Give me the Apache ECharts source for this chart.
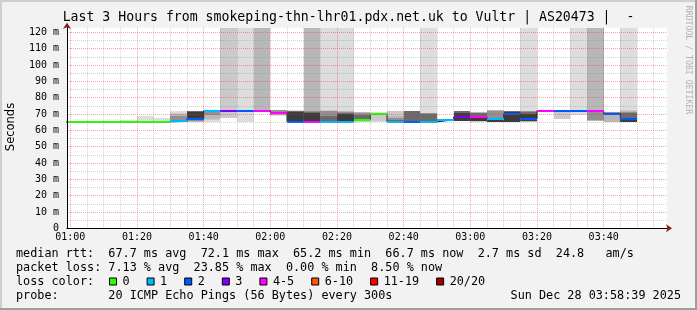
<!DOCTYPE html>
<html>
<head>
<meta charset="utf-8">
<script src="https://cdn.jsdelivr.net/npm/echarts@6.0.0/dist/echarts.min.js"></script>
<style>
html,body{margin:0;padding:0;background:#f2f2f2;overflow:hidden;}
#chart{width:697px;height:310px;}
</style>
</head>
<body>
<div id="chart"></div>
<script>
// ================= DATA =================
// 5-minute measurement slots (start time of each slot)
const slotStart = ['00:55','01:00','01:05','01:10','01:15','01:20','01:25','01:30','01:35','01:40',
  '01:45','01:50','01:55','02:00','02:05','02:10','02:15','02:20','02:25','02:30','02:35','02:40',
  '02:45','02:50','02:55','03:00','03:05','03:10','03:15','03:20','03:25','03:30','03:35','03:40','03:45'];

// median round trip time per slot (ms)
const medianRtt = [65.2,65.2,65.2,65.2,65.2,65.2,65.2,65.5,67.2,72.1,72.1,72.1,72.1,70.8,65.2,65.2,65.2,65.2,
  66.6,70.3,65.2,65.2,65.2,66.4,68.3,68.3,66.9,70.3,67.0,72.1,72.1,72.1,72.1,70.3,66.7];

// lost pings (of 20) per slot
const lossCount = [0,0,0,0,0,0,0,1,2,1,3,2,4,4,2,5,1,1,0,0,1,2,1,1,3,4,1,2,2,4,2,2,5,2,2];

// smoke: ping spread per slot, [low, high] ms, from outermost rank pair to innermost
const smokeRank1 = [null,null,null,null,[65.2,66.5],[65.2,69.0],[65.2,67.3],[65.2,71.8],[65.0,72.0],[65.0,72.1],
  [67.3,140],[65.0,140],[72.1,140],[69.0,72.4],[65.2,72.2],[65.2,140],[65.2,140],[65.2,140],[65.0,71.4],[65.2,71.2],
  [65.2,72.0],[65.2,72.0],[65.2,140],null,[65.5,72.0],[65.4,71.2],[65.2,72.4],[65.2,72.0],[65.2,140],null,
  [66.8,72.1],[69.6,140],[66.0,140],[65.2,71.3],[65.2,140]];
const smokeRank2 = [null,null,null,null,null,null,null,[65.3,70.8],[65.2,71.9],[66.2,72.1],
  [67.3,140],null,[72.1,140],[69.2,72.3],[65.2,72.1],[65.2,140],[65.2,72.2],[65.2,72.0],[65.3,71.2],[65.5,70.8],
  [65.2,71.8],[65.2,71.9],[65.2,70.6],null,[65.6,71.9],[65.4,71.1],[65.2,72.3],[65.2,71.9],[65.2,71.8],null,
  [66.8,72.1],null,[66.0,140],[65.2,71.0],[65.2,72.4]];
const smokeRank3 = [null,null,null,null,null,null,null,[65.8,69.8],[65.4,71.8],[67.2,72.1],
  null,null,[72.1,140],[69.5,72.1],[65.2,72.0],[65.2,140],[65.2,72.0],[65.2,71.8],[65.6,71.0],null,
  [65.2,69.0],[65.2,71.8],[65.2,70.5],null,[65.6,71.8],[65.5,71.0],[65.2,72.2],[65.2,71.8],[65.4,71.7],null,
  null,null,[66.0,140],[65.2,70.8],[65.2,71.8]];
const smokeRank5 = [null,null,null,null,null,null,null,[66.5,68.8],[65.6,71.7],[69.3,72.1],
  null,null,null,[69.8,72.3],[65.2,71.9],[65.2,72.0],[65.2,71.8],[65.2,71.5],[66.2,70.5],null,
  [65.2,67.8],[65.2,71.7],[65.2,70.4],null,[65.7,71.7],[65.5,70.8],[65.2,72.0],[65.2,71.7],[65.5,71.6],null,
  null,null,[66.3,72.2],[69.8,71.0],[65.2,71.2]];
const smokeRank7 = [null,null,null,null,null,null,null,null,[66.5,71.6],null,
  null,null,null,null,[65.2,71.8],[65.4,71.2],[65.2,68.5],[65.2,70.5],[66.6,69.3],null,
  [65.2,66.5],[65.2,71.6],[65.2,70.3],null,[65.7,71.6],[65.5,70.6],[65.2,67.5],[65.2,71.6],[65.6,71.5],null,
  null,null,null,null,[65.2,70.6]];
const smokeRank9 = [null,null,null,null,null,null,null,null,[67.4,71.5],null,
  null,null,null,null,[65.5,71.3],[65.5,70.5],null,[65.5,70.0],null,null,
  null,null,null,null,[66.0,70.5],[65.6,68.0],[65.2,66.8],[65.4,71.5],[65.8,70.0],null,
  null,null,null,null,[65.4,66.8]];

// loss colour classes
const lossLabels = ['0','1','2','3','4-5','6-10','11-19','20/20'];
const lossUpper  = [0,1,2,3,5,10,19,20];

// axis tick labels
const timeTicks = ['01:00','01:20','01:40','02:00','02:20','02:40','03:00','03:20','03:40'];
const rttTicks  = [0,10,20,30,40,50,60,70,80,90,100,110,120];

// summary texts
const rttSummary  = ['67.7','72.1','65.2','66.7'];
const rttSd = '2.7';
const rttAmS = '24.8';
const lossSummary = ['7.13','23.85','0.00','8.50'];
const probeText = '20 ICMP Echo Pings (56 Bytes) every 300s';
const stampText = 'Sun Dec 28 03:58:39 2025';
const titleText = 'Last 3 Hours from smokeping-thn-lhr01.pdx.net.uk to Vultr | AS20473 |  -';

// ================= STYLE / LAYOUT =================
const MONO = '"DejaVu Sans Mono", monospace';
const SANS = '"DejaVu Sans", sans-serif';
const lossColors = ['#26ff00','#00b8ff','#0059ff','#7e00ff','#ff00ff','#ff5500','#ff0000','#a10000'];
const smokeLayers = [
  [smokeRank1,'#dddddd'],[smokeRank2,'#cacaca'],[smokeRank3,'#b7b7b7'],
  [smokeRank5,'#919191'],[smokeRank7,'#6b6b6b'],[smokeRank9,'#3c3c3c']
];
const SLOT = 5;            // minutes
const X_MIN = 59.0, X_MAX = 239.0, Y_MAX = 122.8;

const toMin = s => { const p = s.split(':').map(Number); return p[0]*60 + p[1]; };
const fmtTime = v => String(Math.floor(v/60)).padStart(2,'0') + ':' + String(Math.round(v%60)).padStart(2,'0');
const tStart = slotStart.map(toMin);
const majorX = timeTicks.map(toMin);
const minorX = [];
for (let t = 60; t < X_MAX; t += 5) if (majorX.indexOf(t) < 0) minorX.push(t);
const minorY = [];
for (let v = 5; v < Y_MAX; v += 10) minorY.push(v);
const lossClass = n => { for (let i = 0; i < lossUpper.length; i++) if (n <= lossUpper[i]) return i; return lossUpper.length-1; };

const series = [];
// smoke layers
smokeLayers.forEach(([layer, color], li) => {
  const data = [];
  layer.forEach((r, k) => { if (r) data.push([tStart[k], tStart[k] + SLOT, r[0], r[1]]); });
  series.push({
    type: 'custom', name: 'smoke' + li, data, clip: true, silent: true, z: 2,
    encode: { x: [0, 1], y: [2, 3] },
    renderItem: (params, api) => {
      const lo = Math.max(0, api.value(2)), hi = Math.min(Y_MAX, api.value(3));
      const a = api.coord([api.value(0), hi]);
      const b = api.coord([api.value(1), lo]);
      const x0 = Math.round(a[0]), x1 = Math.round(b[0]);
      const y0 = Math.round(a[1]), y1 = Math.round(b[1]);
      return { type: 'rect', shape: { x: x0, y: y0, width: x1 - x0, height: Math.max(1, y1 - y0) },
               style: { fill: color } };
    }
  });
});
// thin dark median step line
const stepData = tStart.map((t, k) => [t, medianRtt[k]]);
stepData.push([tStart[tStart.length-1] + SLOT, medianRtt[medianRtt.length-1]]);
series.push({
  type: 'line', name: 'median', step: 'end', data: stepData, showSymbol: false, silent: true, z: 3,
  lineStyle: { color: '#202020', width: 1 }
});
// loss coloured median segments
lossLabels.forEach((lab, c) => {
  const data = [];
  medianRtt.forEach((m, k) => { if (lossClass(lossCount[k]) === c) data.push([tStart[k], tStart[k] + SLOT, m]); });
  series.push({
    type: 'custom', name: lab, data, clip: true, silent: true, z: 4,
    itemStyle: { color: lossColors[c] },
    encode: { x: [0, 1], y: 2 },
    renderItem: (params, api) => {
      const a = api.coord([api.value(0), api.value(2)]);
      const b = api.coord([api.value(1), api.value(2)]);
      const y = Math.round(a[1]);
      const x0 = Math.round(a[0]), x1 = Math.round(b[0]);
      return { type: 'rect', shape: { x: x0, y: y - 1, width: x1 - x0, height: 2 },
               style: { fill: lossColors[c] } };
    }
  });
});

const majorGrid = { show: true, lineStyle: { color: 'rgba(222,48,48,0.42)', width: 1, type: [1, 1] } };
const minorGrid = { show: true, lineStyle: { color: 'rgba(143,143,143,0.40)', width: 1, type: [1, 1] } };
const arrowLine = { show: true, onZero: false, symbol: ['none', 'arrow'], symbolSize: [6, 6], symbolOffset: [0, 5],
                    lineStyle: { color: '#8e1515', width: 1 } };
const blackLine = { show: true, onZero: false, lineStyle: { color: '#000', width: 1 } };

const row1 = 'median rtt:  ' + rttSummary[0] + ' ms avg  ' + rttSummary[1] + ' ms max  ' + rttSummary[2] +
             ' ms min  ' + rttSummary[3] + ' ms now  ' + rttSd + ' ms sd  ' + rttAmS + '   am/s';
const row2 = 'packet loss: ' + lossSummary[0] + ' % avg  ' + lossSummary[1] + ' % max  ' + lossSummary[2] +
             ' % min  ' + lossSummary[3] + ' % now';
const txt = (s, x, y, extra) => ({ type: 'text', x, y, silent: true, z: 50,
  style: Object.assign({ text: s, fontFamily: MONO, fontSize: 11.8, fill: '#000', verticalAlign: 'middle', align: 'left' }, extra || {}) });

const option = {
  animation: false,
  backgroundColor: '#f2f2f2',
  title: {
    text: titleText, left: 'center', top: 11, padding: 0,
    textStyle: { fontFamily: MONO, fontSize: 13.2, fontWeight: 'normal', color: '#000' }
  },
  legend: {
    data: lossLabels, left: 109, top: 275.5, padding: 0, orient: 'horizontal',
    itemWidth: 7, itemHeight: 7, itemGap: 17, icon: 'rect', selectedMode: false,
    itemStyle: { borderColor: '#000', borderWidth: 1 },
    textStyle: { fontFamily: MONO, fontSize: 11.8, color: '#000', padding: [0, 0, 0, 1] }
  },
  grid: {
    left: 67, top: 27.8, width: 600, height: 200.5,
    show: true, backgroundColor: '#ffffff', borderWidth: 0,
    containLabel: false, outerBoundsMode: 'none'
  },
  xAxis: [
    { type: 'value', min: X_MIN, max: X_MAX, position: 'bottom', z: 11,
      axisLine: blackLine,
      axisTick: { show: false, customValues: majorX },
      axisLabel: { show: true, customValues: majorX, formatter: fmtTime, margin: 4.5,
                   fontFamily: MONO, fontSize: 10, color: '#000' },
      splitLine: majorGrid },
    { type: 'value', min: X_MIN, max: X_MAX, position: 'bottom', z: 10,
      axisLine: arrowLine,
      axisTick: { show: false, customValues: minorX },
      axisLabel: { show: false },
      splitLine: minorGrid }
  ],
  yAxis: [
    { type: 'value', min: 0, max: Y_MAX, position: 'left', z: 11,
      axisLine: blackLine,
      axisTick: { show: false, customValues: rttTicks.filter(v => v > 0) },
      axisLabel: { show: true, customValues: rttTicks, formatter: v => (v === 0 ? '0' : v + ' m'), margin: 8,
                   fontFamily: MONO, fontSize: 10, color: '#000' },
      splitLine: majorGrid },
    { type: 'value', min: 0, max: Y_MAX, position: 'left', z: 10,
      axisLine: arrowLine,
      axisTick: { show: false, customValues: minorY },
      axisLabel: { show: false },
      splitLine: minorGrid }
  ],
  series,
  graphic: [
    { type: 'rect', silent: true, z: 60, shape: { x: 0, y: 0, width: 697, height: 2 }, style: { fill: '#cfcfcf' } },
    { type: 'rect', silent: true, z: 60, shape: { x: 0, y: 0, width: 2, height: 310 }, style: { fill: '#cfcfcf' } },
    { type: 'rect', silent: true, z: 61, shape: { x: 695, y: 0, width: 2, height: 310 }, style: { fill: '#9e9e9e' } },
    { type: 'rect', silent: true, z: 61, shape: { x: 0, y: 308, width: 697, height: 2 }, style: { fill: '#9e9e9e' } },
    { type: 'text', x: 10.8, y: 127, rotation: Math.PI / 2, silent: true, z: 50,
      style: { text: 'Seconds', fontFamily: SANS, fontSize: 11.5, fill: '#000', align: 'center', verticalAlign: 'middle' } },
    { type: 'text', x: 688, y: 60, rotation: -Math.PI / 2, silent: true, z: 50,
      style: { text: 'RRDTOOL / TOBI OETIKER', fontFamily: MONO, fontSize: 8.2, fill: '#b2b2b2', align: 'center', verticalAlign: 'middle' } },
    txt(row1, 16, 254.3),
    txt(row2, 16, 268.3),
    txt('loss color:', 16, 282.3),
    txt('probe:       ' + probeText, 16, 296.3),
    txt(stampText, 681, 296.3, { align: 'right' })
  ]
};

const chart = echarts.init(document.getElementById('chart'), null, { renderer: 'canvas' });
chart.setOption(option);
</script>
</body>
</html>
